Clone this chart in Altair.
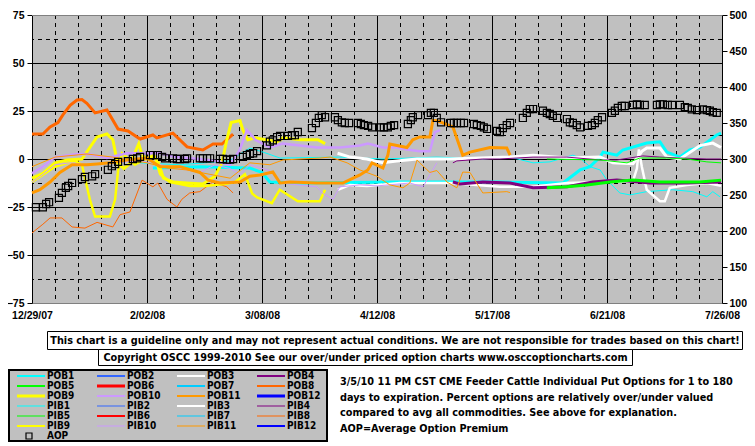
import altair as alt
import pandas as pd

FONT = "Liberation Sans Narrow, DejaVu Sans Condensed, sans-serif"
AXIS_FONT = "Liberation Sans, Arial, sans-serif"
FS = 10.8

# ---------------- axes / ticks ----------------
X_TICK_DAYS = [0, 35, 70, 105, 140, 175, 210]
X_TICK_LABELS = ["12/29/07", "2/02/08", "3/08/08", "4/12/08", "5/17/08", "6/21/08", "7/26/08"]
WEEK_DAYS = [d for d in range(7, 210, 7) if d % 35 != 0]
Y_LEFT_TICKS = [-75, -50, -25, 0, 25, 50, 75]
Y_MAJOR_GRID = [-50, -25, 0, 25, 50]
Y_MINOR_GRID = [-62.5, -37.5, -12.5, 12.5, 37.5, 62.5]
Y_RIGHT_TICKS = [100, 150, 200, 250, 300, 350, 400, 450, 500]

# ---------------- series styling ----------------
BASE_COLORS = ["#00FFFF", "#3366FF", "#FFFFFF", "#800080", "#00FF00", "#FF0000",
               "#00CCFF", "#FF6600", "#FFFF00", "#CC99FF", "#FF9900", "#0000FF"]
PLOT_W_POB = [3, 3, 3, 3, 3, 3, 3, 3, 3, 2.5, 3, 3]
PLOT_W_PIB = [1, 1, 2.5, 1, 1, 2, 1, 1, 2.5, 1, 1, 2]
LEGEND_W_POB = [2, 2, 2, 2, 2, 3, 2, 2, 3, 2, 2, 3]
LEGEND_W_PIB = [1, 1, 2, 1, 1, 2, 1, 1, 2, 1, 1, 2]

# ---------------- data (day offset from 12/29/07, percent) ----------------
POB1_DAYS = [36.8, 51, 66.3, 70, 72.4, 81.6, 112, 142.4, 161.6, 166.8, 169.8, 172.9, 173.8, 178, 179.8, 187.1, 191.1, 193.2, 197.2, 200.2, 203.3, 208.4, 209.7]
POB1_VALS = [-4.7, -4, -4.7, -7, -12, -12.5, -12, -12, -12.5, -5.7, -4, 1, 3.6, 2, 4.7, 8.3, 9, 3.6, 1, 4.7, 6, 12.5, 13.5]
PIB1_DAYS = [33, 45, 60, 66.3, 70.3, 75.5, 93.7, 106.8, 123.2, 137.2, 145.5, 152.5, 157.6, 164.6, 166.8, 169.8, 172.9, 175, 178.9, 182, 187.1, 195, 201.1, 205.4, 207.2, 209.4]
PIB1_VALS = [-2, -3, -1, 5.7, 3.6, 0.5, 1, 0, 1, 0, 1, -2, -1.5, 2, 0.5, -4, -5.7, -11, -17.7, -18.7, -17, -16, -17, -19.7, -17, -19.7]

POB3_DAYS = [93, 96.8, 101.9, 106.8, 111, 117.2, 127.2, 145.5, 152.5, 162.8, 172.9, 176.8, 182.9, 184.4, 185.6, 187.1, 191.1, 193.2, 197.2, 203.3, 207.2, 209.7]
POB3_VALS = [3, 1, 0, -2, -1, 0, 0, 1, 2, 0.5, 1, -2, -2.5, 1, 4, 5.7, 5.7, 1, 0, 7, 8.3, 6]
PIB3_DAYS = [93.1, 96.8, 101.9, 112, 127.2, 142.4, 152.5, 162.8, 172.9, 182.9, 184.1, 184.7, 185.6, 187.1, 191.1, 192.6, 194.1, 199.3, 205.4, 209.7]
PIB3_VALS = [-16, -13.5, -14, -12.5, -12.5, -14.5, -14.5, -12.5, -12, -11.5, -5, 5, -4, -16, -22, -22, -15, -13.5, -12.5, -14]

POB4_DAYS = [128.1, 130.2, 137.2, 145.5, 152.5, 162.8, 170.7, 178, 188.1, 199.3, 209.7]
POB4_VALS = [-12, -13, -12, -12.5, -15, -14.5, -12, -11, -12.5, -12.5, -12]
PIB4_DAYS = [128.1, 129.3, 137.2, 142.4, 152.5, 162.8, 172.9, 178, 185.9, 191.1, 197.2, 205.4, 209.7]
PIB4_VALS = [-2, -1, 0, 0, 1, 1, -0.5, -0.5, 1.6, 1, 0.5, 0, 0]

POB5_DAYS = [156.7, 162.8, 168.9, 175.9, 182.9, 191.1, 203.3, 209.7]
POB5_VALS = [-15, -14.5, -13.5, -12, -11, -12, -12, -11]
PIB5_DAYS = [156.7, 172.9, 181.1, 185, 193.2, 199.3, 205.4, 209.7]
PIB5_VALS = [0, -0.5, -2, 0.5, 0.5, 0, -1.5, -2]

POB8_DAYS = [0, 3.3, 5.5, 7.9, 9.4, 11.6, 13.7, 15.2, 16.7, 19.2, 22.8, 26.2, 29.2, 32.9, 36.8, 38, 42.9, 47.2, 52, 55.1, 57.8, 61.2]
POB8_VALS = [13, 13, 16.7, 19, 23, 28, 30.7, 31, 29, 24, 25.5, 15.6, 14.6, 10.4, 12.5, 11, 13.5, 6.3, 4.7, 7.8, 7.8, 13]
PIB8_DAYS = [0, 3.3, 5.5, 9.1, 12.2, 16.1, 19.8, 24.6, 26.8, 29.8, 33.5, 36.8, 38.3, 41.1, 44.1, 45.6, 48, 51.1, 55, 59.3, 61.2]
PIB8_VALS = [-38.5, -34, -30.7, -30.7, -35.4, -36, -33, -35.4, -29, -27.6, -11, -14.5, -12.5, -21, -25, -21, -17.7, -17, -12, -14.5, -17.7]

POB9_DAYS = [0, 3.3, 7, 10.7, 15.2, 17.6, 19.8, 22.8, 24.6, 26, 28, 30, 31.5, 32.5, 33.5, 35, 37, 38.5, 40, 43, 47, 52, 55.7, 57.8, 59.3, 60.6, 63.3, 64.2, 65.7, 67.9, 74.6, 76.4, 81.6, 87, 89.2]
POB9_VALS = [-10, -7.5, -2, -0.5, 0, 6, 11.5, 13, 10, -2, -5, -2, 4, 8, 2, 0, 2, -2, -10, -12, -12.5, -13, -9, -2, 10, 19, 20, 15, 10, 11, 9, 11, 10, 10, 8]
PIB9_DAYS = [0, 7, 13, 15.2, 16.4, 17.6, 19.2, 23.7, 25.3, 26.2, 27.4, 31.3, 34.4, 37.4, 39, 42, 48, 52.6, 58.7, 61.8, 64.8, 67, 68.5, 73, 75.4, 80.9, 87.6, 89.2]
PIB9_VALS = [-12, -4, -1, -3, -12, -21, -30, -30, -21, -6, 3, -3, 0, 1, -8, -12, -14, -14, -13, -12, -8, -18, -20, -23, -16, -22, -22, -16]

POB10_DAYS = [0, 3.3, 7, 13.7, 17.6, 22.8, 28.9, 35, 39, 43.5, 51.1, 55.7, 60.3, 63.3, 65.4, 67, 67.9, 72.4, 76.4, 81.6, 86.7, 93.7, 99.8, 102.2, 106.8, 111, 114.1, 118, 121.1, 122.6, 124.2]
POB10_VALS = [-7.5, -4, 1, 2.6, 2.5, 0.5, 3, 3, 3, 1, 0, -1, -3, 5, 15, 12, 10, 6, 8, 7, 6, 6, 7, 8, 6, 6, 5, 4, 4, 14, 15]
PIB10_DAYS = [0, 3.3, 7, 11.6, 17.6, 23.7, 32.9, 39, 45, 51.1, 55.7, 60.3, 63.3, 66.3, 72.4, 75.5, 86.7, 88.6, 91.6, 93.7, 99.8, 105, 115, 119, 123.2]
PIB10_VALS = [-12, -8, -3, -2, -3, -2, -1, -3, -5, -7, -3, -5, -8, -3, -6, -12.5, -14.5, -18, -21, -14.5, -13.5, -14, -12.5, -14.5, -2]

POB11_DAYS = [0, 2.4, 5.5, 8.5, 12.2, 16.7, 19.8, 23.7, 28.9, 35, 39, 45, 51.1, 53.6, 57.2, 63.3, 66.3, 69.4, 73.3, 75.5, 78.5, 86.7, 94.6, 99.8, 102.2, 103.5, 106.8, 108.3, 108.9, 114.1, 115.9, 118, 121.1, 122, 123.2, 128.1, 131.1, 133.3, 139.4, 144.5, 145.5]
POB11_VALS = [-17.7, -16, -12, -7, -3, -3, -2.6, -2, -0.5, 0.5, -4, -4, -7, -11, -12.5, -12, -9, -8.3, -6.8, -12.5, -12, -12.5, -12.5, -8.3, -5.7, -2, -4.7, 2, 7.8, 6, 10, 11.5, 11.5, 20, 20, 16.7, 2, 3.6, 6, 5.7, 2]
PIB11_DAYS = [0, 7, 16.7, 24.6, 35, 41.1, 47.2, 54.2, 60.3, 66.3, 72.4, 76.4, 87.6, 90.7, 95.9, 99.8, 105, 108.9, 112.9, 115, 117.2, 118, 121.1, 123.2, 126.3, 129.3, 131.1, 133.3, 137.2, 144.5, 145.5]
PIB11_VALS = [-4, 1, 2.6, 1, -2, -4.7, -5.7, -8, -10, -2, -3, -0.5, 0.5, 1, -2, -5.7, -9, -13.5, -15, -12.5, -0.5, -2, -7, -6, -12, -15, -6.8, -7, -17.7, -17, -17.5]

AOP_DAYS = [1.2, 3.3, 4.3, 5.2, 8.2, 9.1, 10.3, 11, 12.2, 15.2, 16.1, 18.3, 19.2, 23.1, 24.3, 25.3, 26.2, 29.2, 30.7, 32, 32.9,
            35.9, 36.8, 38.3, 39.6, 40.5, 42.9, 44.1, 45, 46.6, 47.2, 51.1, 52, 53.3, 54.2, 57.2, 58.1, 59.3, 60.3, 61.2,
            64.2, 65.4, 66.3, 67.3, 68.5, 71.5, 72.4, 73.3, 74.6, 75.5, 77.9, 79.1, 80, 80.9, 85.2, 86.4, 87.3, 88.2, 89.2,
            92.2, 93.1, 94.3, 95.2, 96.5, 99.2, 100.1, 101, 102.3, 103.5, 105.9, 107.1, 108.3, 109.2, 110.2, 114.4, 115.3,
            115.9, 117.5, 120.5, 121.4, 122.3, 123.2, 124.5, 127.5, 128.4, 129.3, 130.5, 131.5, 134.5, 135.4, 136.6, 137.5,
            138.5, 141.5, 142.4, 143.3, 144.5, 145.5, 149.4, 150.6, 151.5, 152.5, 155.5, 156.7, 157.6, 158.5, 159.8, 162.8,
            163.7, 164.6, 165.8, 166.8, 169.2, 170.4, 171.3, 172.2, 173.5, 176.5, 177.4, 178.3, 179.5, 180.4, 182.9, 184.1,
            185, 186.5, 190.2, 191.1, 192, 193.5, 194.8, 197.2, 198.7, 199.6, 200.8, 202.4, 204.2, 205.4, 206.3, 207.2, 208.4]
AOP_VALS = [233, 233, 237.5, 240, 246, 253, 260, 262.5, 266.7, 272, 275, 276, 279, 285, 290, 293, 296, 297, 300, 301, 303,
            305.5, 305.5, 305.5, 303, 301, 301, 300, 300, 300, 301, 301, 301, 301, 301, 300, 300, 299, 299, 300,
            303, 305.5, 307, 308, 311, 319, 324, 326, 330.5, 332, 332, 333, 333, 337.5, 343, 350, 357, 361, 358,
            358, 354, 351, 350, 350, 350, 348.6, 347, 346, 344, 344, 344, 344, 346, 347, 348.6, 354,
            358, 361, 361, 364, 364, 357, 351, 350, 350, 350, 350, 350, 348.6, 347, 346, 344,
            341.7, 339, 337.5, 343, 347, 350, 357, 364, 369.4, 369.4, 367, 364, 362.5, 360, 357, 355.5,
            351, 350, 347, 344, 346, 347, 350, 354, 358, 364, 367, 371, 373.6, 373.6, 375, 376,
            375, 375, 375, 376, 376, 375, 375, 375, 372, 371, 369, 368, 369, 368, 367, 365, 364]

# ---------------- text ----------------
DISCLAIMER = ("This chart is a guideline only and may not represent actual conditions. "
              "We are not responsible for trades based on this chart!")
COPYRIGHT = "Copyright OSCC 1999-2010 See our over/under priced option charts www.osccoptioncharts.com"
DESC_LINES = [
    "3/5/10 11 PM CST CME Feeder Cattle Individual Put Options for 1 to 180",
    "days to expiration. Percent options are relatively over/under valued",
    "compared to avg all commodities. See above for explanation.",
    "AOP=Average Option Premium",
]

# ---------------- build tables ----------------
SERIES_DATA = {
    "POB1": (POB1_DAYS, POB1_VALS), "PIB1": (PIB1_DAYS, PIB1_VALS),
    "POB3": (POB3_DAYS, POB3_VALS), "PIB3": (PIB3_DAYS, PIB3_VALS),
    "POB4": (POB4_DAYS, POB4_VALS), "PIB4": (PIB4_DAYS, PIB4_VALS),
    "POB5": (POB5_DAYS, POB5_VALS), "PIB5": (PIB5_DAYS, PIB5_VALS),
    "POB8": (POB8_DAYS, POB8_VALS), "PIB8": (PIB8_DAYS, PIB8_VALS),
    "PIB9": (PIB9_DAYS, PIB9_VALS), "POB9": (POB9_DAYS, POB9_VALS),
    "POB10": (POB10_DAYS, POB10_VALS), "PIB10": (PIB10_DAYS, PIB10_VALS),
    "POB11": (POB11_DAYS, POB11_VALS), "PIB11": (PIB11_DAYS, PIB11_VALS),
}

names, colors, plot_w, leg_rows = [], [], {}, []
for kind, pw, lw, row0 in (("POB", PLOT_W_POB, LEGEND_W_POB, 0), ("PIB", PLOT_W_PIB, LEGEND_W_PIB, 3)):
    for i in range(12):
        nm = f"{kind}{i + 1}"
        names.append(nm)
        colors.append(BASE_COLORS[i])
        plot_w[nm] = pw[i]
        leg_rows.append({"name": nm, "col": i % 4, "col_end": i % 4 + 0.35,
                         "row": row0 + i // 4, "color": BASE_COLORS[i], "lw": lw[i]})

line_rows = []
for nm, (days, vals) in SERIES_DATA.items():
    for d, v in zip(days, vals):
        line_rows.append({"series": nm, "day": d, "value": v, "w": plot_w[nm]})
lines_df = pd.DataFrame(line_rows)
aop_df = pd.DataFrame({"day": AOP_DAYS, "aop": AOP_VALS})
legend_df = pd.DataFrame(leg_rows)
legend_lab_df = pd.concat([legend_df[["name", "col", "row"]],
                           pd.DataFrame([{"name": "AOP", "col": 0, "row": 6}])], ignore_index=True)

# ---------------- scales / axes ----------------
xs = alt.Scale(domain=[0, 210], nice=False, zero=False)
ys = alt.Scale(domain=[-75, 75], nice=False, zero=False)
yr = alt.Scale(domain=[100, 500], nice=False, zero=False)

label_expr = "[" + ",".join(f"'{s}'" for s in X_TICK_LABELS) + "][round(datum.value/35)]"
x_axis = alt.Axis(values=X_TICK_DAYS, labelExpr=label_expr, ticks=False, labelPadding=7,
                  domainColor="#808080", title=None, labelOverlap=False, labelFlush=False,
                  labelBound=False, grid=False)
y_axis = alt.Axis(values=Y_LEFT_TICKS, tickSize=5, labelPadding=3, title=None, grid=False,
                  labelOverlap=False, labelBound=False)
r_axis = alt.Axis(orient="right", values=Y_RIGHT_TICKS, tickSize=5, labelPadding=2, title=None,
                  grid=False, labelOverlap=False, labelBound=False)

X = lambda f: alt.X(f, scale=xs, axis=x_axis)
Y = lambda f: alt.Y(f, scale=ys, axis=y_axis)

grid_major_h = alt.Chart(pd.DataFrame({"v": Y_MAJOR_GRID})).mark_rule(
    color="black", strokeWidth=1, yOffset=0.5).encode(y=Y("v:Q"))
grid_minor_h = alt.Chart(pd.DataFrame({"v": Y_MINOR_GRID})).mark_rule(
    color="black", strokeWidth=1, strokeDash=[4, 4], yOffset=0.5).encode(y=Y("v:Q"))
grid_top = alt.Chart(pd.DataFrame({"v": [75]})).mark_rule(
    color="#808080", strokeWidth=1, yOffset=0.5).encode(y=Y("v:Q"))
grid_major_v = alt.Chart(pd.DataFrame({"d": X_TICK_DAYS[1:-1]})).mark_rule(
    color="black", strokeWidth=1, xOffset=0.5).encode(x=X("d:Q"))
grid_minor_v = alt.Chart(pd.DataFrame({"d": WEEK_DAYS})).mark_rule(
    color="black", strokeWidth=1, strokeDash=[4, 4], xOffset=0.5).encode(x=X("d:Q"))

lines = alt.Chart(lines_df).mark_line().encode(
    x=X("day:Q"),
    y=Y("value:Q"),
    color=alt.Color("series:N", scale=alt.Scale(domain=names, range=colors), legend=None),
    strokeWidth=alt.StrokeWidth("w:Q", scale=None, legend=None),
    detail="series:N",
)

main = alt.layer(grid_minor_h, grid_minor_v, grid_major_h, grid_major_v, grid_top, lines)

aop = alt.Chart(aop_df).mark_point(shape="square", size=50, filled=False, color="black",
                                   strokeWidth=1.2, opacity=1).encode(
    x=alt.X("day:Q", scale=xs, axis=None),
    y=alt.Y("aop:Q", scale=yr, axis=r_axis),
)

# ---------------- legend ----------------
lx = alt.Scale(domain=[0, 4], range=[-15, 305])
ly = alt.Scale(domain=[0, 6], range=[361, 421])
txt_kw = dict(font=FONT, fontWeight="bold", fontSize=FS, color="black")
legend_box = alt.Chart(pd.DataFrame({"k": [0]})).mark_rect(
    fill="#C0C0C0", stroke="black", strokeWidth=2).encode(
    x=alt.value(-23), x2=alt.value(295), y=alt.value(355), y2=alt.value(426))
legend_lines = alt.Chart(legend_df).mark_rule().encode(
    x=alt.X("col:Q", scale=lx, axis=None), x2="col_end:Q",
    y=alt.Y("row:Q", scale=ly, axis=None),
    color=alt.Color("color:N", scale=None),
    strokeWidth=alt.StrokeWidth("lw:Q", scale=None),
)
legend_labels = alt.Chart(legend_lab_df).mark_text(
    align="left", baseline="middle", dx=30, font=FONT, fontWeight="bold", fontSize=10, color="black").encode(
    x=alt.X("col:Q", scale=lx, axis=None), y=alt.Y("row:Q", scale=ly, axis=None), text="name:N")
legend_aop = alt.Chart(pd.DataFrame({"col": [0], "row": [6]})).mark_point(
    shape="square", size=36, filled=False, color="black", strokeWidth=1.2, xOffset=12, opacity=1).encode(
    x=alt.X("col:Q", scale=lx, axis=None), y=alt.Y("row:Q", scale=ly, axis=None))
legend = alt.layer(legend_box, legend_lines, legend_labels, legend_aop)

# ---------------- notes ----------------
box1 = alt.Chart(pd.DataFrame({"k": [0]})).mark_rect(fill="white", stroke="black", strokeWidth=1).encode(
    x=alt.value(15.5), x2=alt.value(710.5), y=alt.value(316.5), y2=alt.value(334.5))
box2 = alt.Chart(pd.DataFrame({"k": [0]})).mark_rect(fill="white", stroke="black", strokeWidth=1).encode(
    x=alt.value(66.5), x2=alt.value(600.5), y=alt.value(334.5), y2=alt.value(350.5))
text1 = alt.Chart(pd.DataFrame({"t": [DISCLAIMER]})).mark_text(align="center", baseline="middle", **txt_kw).encode(
    x=alt.value(363), y=alt.value(326), text="t:N")
text2 = alt.Chart(pd.DataFrame({"t": [COPYRIGHT]})).mark_text(align="center", baseline="middle", **txt_kw).encode(
    x=alt.value(333.5), y=alt.value(343), text="t:N")
desc = alt.Chart(pd.DataFrame({"t": DESC_LINES, "i": list(range(len(DESC_LINES)))})).mark_text(
    align="left", baseline="middle", **txt_kw).encode(
    x=alt.value(308), y=alt.Y("i:Q", scale=alt.Scale(domain=[0, 3], range=[367, 414]), axis=None), text="t:N")
notes = alt.layer(box1, box2, text1, text2, desc)

chart = alt.layer(main, aop, legend, notes).resolve_scale(
    x="independent", y="independent", color="independent", strokeWidth="independent"
).properties(
    width=690, height=288,
    autosize=alt.AutoSizeParams(type="none"),
    padding={"left": 24, "top": 7, "right": 25, "bottom": 139},
    background="white",
).configure_view(fill="#C0C0C0", stroke=None).configure_axis(
    labelFont=AXIS_FONT, labelFontSize=10.5, labelFontWeight="bold", labelColor="black",
    tickColor="black", domainColor="black", tickWidth=1, domainWidth=1,
)

chart.save("out.html", embed_options={"renderer": "svg", "actions": False})
